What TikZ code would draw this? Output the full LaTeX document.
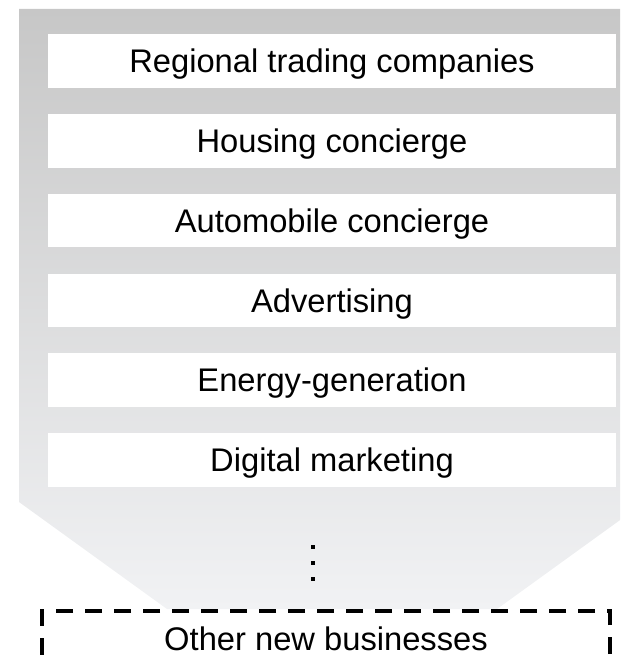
\documentclass[tikz,border=0pt]{standalone}
\usepackage{fontspec}
\setmainfont{Liberation Sans}
\usetikzlibrary{positioning}
\definecolor{funneltop}{HTML}{C7C7C7}
\definecolor{funnelmid}{HTML}{DEDEDF}
\definecolor{funnelbot}{HTML}{F1F2F4}

\begin{document}
\begin{tikzpicture}[x=1pt,y=-1pt]
            \tikzstyle{biz node}=[fill=white,inner sep=0pt,minimum width=568pt,minimum height=53.5pt,
                node distance=79.8pt,text height=23.4pt,text depth=0pt,font=\fontsize{32.7}{39}\selectfont]
            \tikzstyle{new node}=[biz node,fill=none,draw,line width=3.5pt,dash pattern=on 17pt off 12pt,
                minimum height=55pt]
            \clip (0,0) rectangle (620,660);

            % grey funnel behind the list
            \shade[top color=funneltop,middle color=funnelmid,bottom color=funnelbot]
                (19,9) -- (645,9) -- (645,502) -- (497,609) -- (167,609) -- (19,502) -- cycle;

            \node[biz node] (RT) at (332,61) {Regional trading companies};
            \node[biz node] (HC) [below of=RT] {Housing concierge};
            \node[biz node] (AC) [below of=HC] {Automobile concierge};
            \node[biz node] (AD) [below of=AC] {Advertising};
            \node[biz node] (EG) [below of=AD] {Energy-generation};
            \node[biz node] (DM) [below of=EG] {Digital marketing};
            \node[new node] (ON) [below of=DM,node distance=178.5pt,xshift=-6pt] {Other new businesses};

            % vertical dots
            \foreach \y in {547,563,579}
                \fill (310.6,\y-2.35) rectangle ++(4.7,4.7);
        \end{tikzpicture}
\end{document}
